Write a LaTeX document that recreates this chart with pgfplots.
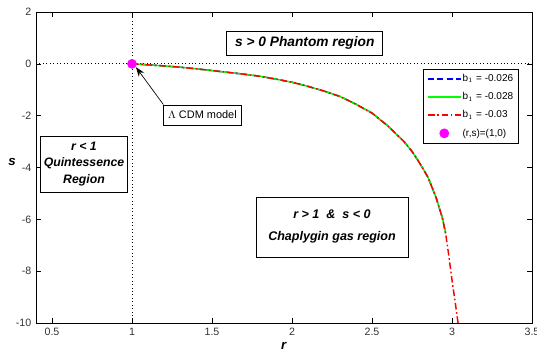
\documentclass[border=0pt]{standalone}
\usepackage{pgfplots}
\pgfplotsset{compat=1.18}
\usepackage{fontspec}
\setmainfont{Liberation Sans}
\usetikzlibrary{arrows.meta,calc}
\definecolor{mmag}{RGB}{255,0,255}
\definecolor{mgreen}{RGB}{0,255,0}
\definecolor{mred}{RGB}{255,0,0}
\definecolor{mblue}{RGB}{0,0,255}
\pgfplotstableread{
r s
1.00 0
1.10 -0.04
1.20 -0.08
1.30 -0.13
1.40 -0.19
1.50 -0.26
1.60 -0.33
1.70 -0.40
1.80 -0.48
1.90 -0.59
2.00 -0.71
2.10 -0.87
2.20 -1.05
2.30 -1.26
2.40 -1.56
2.50 -1.90
2.60 -2.40
2.70 -3.00
2.75 -3.38
2.80 -3.85
2.85 -4.38
2.90 -5.15
2.94 -5.95
2.96 -6.54
}\curveA
\pgfplotstableread{
r s
1.00 0
1.10 -0.04
1.20 -0.08
1.30 -0.13
1.40 -0.19
1.50 -0.26
1.60 -0.33
1.70 -0.40
1.80 -0.48
1.90 -0.59
2.00 -0.71
2.10 -0.87
2.20 -1.05
2.30 -1.26
2.40 -1.56
2.50 -1.90
2.60 -2.40
2.70 -3.00
2.75 -3.38
2.80 -3.85
2.85 -4.38
2.90 -5.15
2.94 -5.95
2.96 -6.54
2.98 -7.40
3.00 -8.34
3.02 -9.20
3.04 -10.10
}\curveC
\begin{document}
\begin{tikzpicture}[x=0.75pt,y=0.75pt]
\begin{axis}[
  scale only axis,
  width=372pt, height=233.25pt,
  xmin=0.4, xmax=3.5, ymin=-10, ymax=2,
  xtick={0.5,1,...,3.5}, ytick={-10,-8,...,2},
  xticklabels={0.5,1,1.5,2,2.5,3,3.5},
  yticklabels={-10,-8,-6,-4,-2,0,2},
  tick align=inside,
  major tick length=4pt,
  tick style={black, line width=0.5pt},
  axis line style={black, line width=0.6pt},
  ticklabel style={font=\fontsize{8}{9}\selectfont, text=black!80},
  /pgf/number format/assume math mode=true,
  xlabel={\textbf{\textit{r}}},
  ylabel={\textbf{\textit{s}}},
  xlabel style={font=\fontsize{10}{11}\selectfont, at={(rel axis cs:0.5,0)}, yshift=-11pt},
  ylabel style={font=\fontsize{10}{11}\selectfont, rotate=-90, at={(rel axis cs:0,0.5)}, anchor=center, xshift=-18pt, yshift=4.3pt},
  legend style={at={(rel axis cs:0.78,0.818)}, anchor=north west, draw=black, fill=white,
    font=\fontsize{7.5}{8}\selectfont, row sep=4.6pt, inner xsep=3pt, inner ysep=3pt, line width=0.5pt,
    nodes={inner sep=1pt, text height=5.5pt, text depth=1.5pt}},
  legend cell align=left,
  legend image code/.code={\draw[mark repeat=2,mark phase=2,#1] plot coordinates {(0cm,0cm) (0.43cm,0cm) (0.86cm,0cm)};},
  clip=true,
]
% reference dotted lines
\addplot[black, dotted, line width=0.6pt, forget plot] coordinates {(0.4,0) (3.5,0)};
\addplot[black, dotted, line width=0.6pt, forget plot] coordinates {(1,-10) (1,2)};
% curves
\addplot[mblue, dash pattern=on 4.5pt off 2.5pt, line width=1.1pt] table {\curveA};
\addlegendentry{b$_{\scriptscriptstyle 1}$ = -0.026}
\addplot[mgreen, line width=1.1pt] table {\curveA};
\addlegendentry{b$_{\scriptscriptstyle 1}$ = -0.028}
\addplot[mred, dash pattern=on 5pt off 2pt on 1.2pt off 2pt, line width=1.1pt] table {\curveC};
\addlegendentry{b$_{\scriptscriptstyle 1}$ = -0.03}
\addplot[only marks, mark=*, mark size=3.4pt, color=mmag, mark options={fill=mmag, draw=mmag}] coordinates {(1,0)};
\addlegendentry{(r,s)=(1,0)}
% annotation boxes
\node[draw=black, fill=white, line width=0.5pt, font=\fontsize{10.3}{11}\selectfont\bfseries\itshape, minimum width=117pt, minimum height=18pt, inner sep=1pt] at (axis cs:2.08,0.81) {s > 0 Phantom region};
\node[draw=black, fill=white, line width=0.5pt, font=\fontsize{9.2}{12.5}\selectfont\bfseries\itshape, align=center, minimum width=65pt, minimum height=42pt, inner sep=0.5pt] at (axis cs:0.70,-3.86) {r < 1\\Quintessence\\Region};
\node[draw=black, fill=white, line width=0.5pt, font=\fontsize{9.4}{13.5}\selectfont\bfseries\itshape, align=center, minimum width=114pt, minimum height=45pt, inner sep=1pt] at (axis cs:2.25,-6.29) {r > 1 \ \& \ s < 0\\[3pt]Chaplygin gas region};
\node[draw=black, fill=white, line width=0.5pt, font=\fontsize{8.2}{9}\selectfont, minimum width=58pt, minimum height=15pt, inner sep=1pt] (lcdm) at (axis cs:1.44,-1.97) {$\Lambda$ CDM model};
\draw[-{Stealth[length=7pt,width=5pt]}, black, line width=0.5pt] (lcdm.north west) -- (axis cs:1.025,-0.13);
\end{axis}
\pgfresetboundingbox
\path[use as bounding box] ($(current axis.south west)+(-36,-31)$) rectangle ($(current axis.north east)+(5,12)$);
\end{tikzpicture}
\end{document}
